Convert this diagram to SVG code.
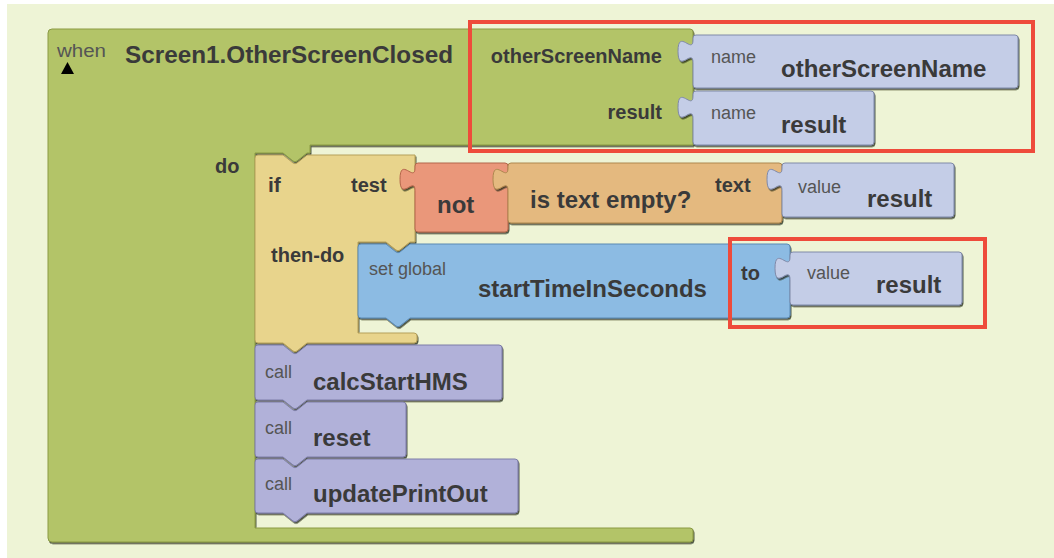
<svg xmlns="http://www.w3.org/2000/svg" width="1054" height="558" viewBox="0 0 1054 558">
<defs>
<filter id="sh" x="-5%" y="-5%" width="112%" height="120%">
<feDropShadow dx="1" dy="1.6" stdDeviation="0.6" flood-color="#1c2010" flood-opacity="0.75"/>
</filter>
<style>
.blk{stroke-width:1;filter:url(#sh);stroke-linejoin:round}
.ev{fill:#b3c467;stroke:#8a9a45}
.ctl{fill:#e8d48c;stroke:#b5a05a}
.not{fill:#ea977a;stroke:#b3664b}
.te{fill:#e4b97f;stroke:#ad874e}
.val{fill:#c4cde7;stroke:#7f89a8}
.set{fill:#8cbbe3;stroke:#5a89b3}
.call{fill:#b1b1d9;stroke:#7d7da8}
.b{font-family:"Liberation Sans",Arial,sans-serif;font-weight:bold;fill:#3a3a3a}
.big{font-size:24px}
.sm{font-size:20px}
.lt{font-family:"Liberation Sans",Arial,sans-serif;font-weight:normal;font-size:18px;fill:#555555}
.red{fill:none;stroke:#ee4b3b;stroke-width:4}
</style>
</defs>
<rect x="0" y="0" width="1054" height="558" fill="#ffffff"/>
<rect x="7" y="4" width="1047" height="554" fill="#eef4d6"/>

<g id="event-block">
<path class="blk ev" d="M 52,29 H 690 Q 693,29 693,32 V 145 H 310 V 153 H 307 l -10,8 q -2,1.5 -4,0 l -10,-8 H 255 V 528 H 690 Q 693,528 693,531 V 539 Q 693,542 690,542 H 52 Q 48,542 48,538 V 33 Q 48,29 52,29 Z"/>
<text class="lt" x="57" y="57" font-size="16" textLength="49" lengthAdjust="spacingAndGlyphs">when</text>
<polygon points="61,74 74,74 67.5,62" fill="#000000"/>
<text class="b big" x="125" y="63" textLength="328" lengthAdjust="spacingAndGlyphs">Screen1.OtherScreenClosed</text>
<text class="b sm" x="662" y="63" text-anchor="end">otherScreenName</text>
<text class="b sm" x="662" y="119" text-anchor="end">result</text>
<text class="b sm" x="215" y="173">do</text>
</g>

<g id="name-otherScreenName">
<path class="blk val" d="M 696,35 H 1015 Q 1018,35 1018,38 V 85 Q 1018,88 1015,88 H 696 Q 693,88 693,85 V 62.5 c 0,-15 -15,12 -15,-11.25 s 15,3.75 15,-11.25 V 38 Q 693,35 696,35 Z"/>
<text class="lt" x="711" y="63">name</text>
<text class="b big" x="781" y="77">otherScreenName</text>
</g>

<g id="name-result">
<path class="blk val" d="M 696,91 H 871 Q 874,91 874,94 V 142 Q 874,145 871,145 H 696 Q 693,145 693,142 V 118.5 c 0,-15 -15,12 -15,-11.25 s 15,3.75 15,-11.25 V 94 Q 693,91 696,91 Z"/>
<text class="lt" x="711" y="119">name</text>
<text class="b big" x="781" y="133">result</text>
</g>

<g id="if-block">
<path class="blk ctl" d="M 258,155 H 283 l 10,8 q 2,1.5 4,0 l 10,-8 H 415 V 242 H 410 l -10,8 q -2,1.5 -4,0 l -10,-8 H 358 V 333 H 414 Q 417,333 417,336 V 340 Q 417,343 414,343 H 307 l -10,8 q -2,1.5 -4,0 l -10,-8 H 258 Q 255,343 255,340 V 158 Q 255,155 258,155 Z"/>
<text class="b" x="268" y="192" font-size="21">if</text>
<text class="b sm" x="351" y="192">test</text>
<text class="b sm" x="271" y="262">then-do</text>
</g>

<g id="not-block">
<path class="blk not" d="M 418,163 H 505 Q 508,163 508,166 V 229 Q 508,232 505,232 H 418 Q 415,232 415,229 V 190.5 c 0,-15 -15,12 -15,-11.25 s 15,3.75 15,-11.25 V 166 Q 415,163 418,163 Z"/>
<text class="b big" x="437" y="213">not</text>
</g>

<g id="is-text-empty">
<path class="blk te" d="M 511,163 H 779 Q 782,163 782,166 V 220 Q 782,223 779,223 H 511 Q 508,223 508,220 V 190.5 c 0,-15 -15,12 -15,-11.25 s 15,3.75 15,-11.25 V 166 Q 508,163 511,163 Z"/>
<text class="b big" x="530" y="208">is text empty?</text>
<text class="b sm" x="715" y="192">text</text>
</g>

<g id="value-result-1">
<path class="blk val" d="M 785,163 H 951 Q 954,163 954,166 V 214 Q 954,217 951,217 H 785 Q 782,217 782,214 V 190.5 c 0,-15 -15,12 -15,-11.25 s 15,3.75 15,-11.25 V 166 Q 782,163 785,163 Z"/>
<text class="lt" x="798" y="193">value</text>
<text class="b big" x="867" y="207">result</text>
</g>

<g id="set-global">
<path class="blk set" d="M 361,244 H 386 l 10,8 q 2,1.5 4,0 l 10,-8 H 787 Q 790,244 790,247 V 315 Q 790,318 787,318 H 410 l -10,8 q -2,1.5 -4,0 l -10,-8 H 361 Q 358,318 358,315 V 247 Q 358,244 361,244 Z"/>
<text class="lt" x="369" y="275">set global</text>
<text class="b big" x="478" y="297">startTimeInSeconds</text>
<text class="b sm" x="741" y="280">to</text>
</g>

<g id="value-result-2">
<path class="blk val" d="M 793,252 H 959 Q 962,252 962,255 V 302 Q 962,305 959,305 H 793 Q 790,305 790,302 V 279.5 c 0,-15 -15,12 -15,-11.25 s 15,3.75 15,-11.25 V 255 Q 790,252 793,252 Z"/>
<text class="lt" x="807" y="279">value</text>
<text class="b big" x="876" y="293">result</text>
</g>

<g id="call-calcStartHMS">
<path class="blk call" d="M 258,345 H 283 l 10,8 q 2,1.5 4,0 l 10,-8 H 499 Q 502,345 502,348 V 397 Q 502,400 499,400 H 307 l -10,8 q -2,1.5 -4,0 l -10,-8 H 258 Q 255,400 255,397 V 348 Q 255,345 258,345 Z"/>
<text class="lt" x="265" y="378">call</text>
<text class="b big" x="313" y="390">calcStartHMS</text>
</g>

<g id="call-reset">
<path class="blk call" d="M 258,402 H 283 l 10,8 q 2,1.5 4,0 l 10,-8 H 403 Q 406,402 406,405 V 454 Q 406,457 403,457 H 307 l -10,8 q -2,1.5 -4,0 l -10,-8 H 258 Q 255,457 255,454 V 405 Q 255,402 258,402 Z"/>
<text class="lt" x="265" y="434">call</text>
<text class="b big" x="313" y="446">reset</text>
</g>

<g id="call-updatePrintOut">
<path class="blk call" d="M 258,459 H 283 l 10,8 q 2,1.5 4,0 l 10,-8 H 515 Q 518,459 518,462 V 510 Q 518,513 515,513 H 307 l -10,8 q -2,1.5 -4,0 l -10,-8 H 258 Q 255,513 255,510 V 462 Q 255,459 258,459 Z"/>
<text class="lt" x="265" y="490">call</text>
<text class="b big" x="313" y="502">updatePrintOut</text>
</g>

<g id="connectors"></g>

<g id="highlight-boxes">
<rect class="red" x="470" y="22" width="563" height="129"/>
<rect class="red" x="730" y="239" width="255" height="88"/>
</g>
</svg>
